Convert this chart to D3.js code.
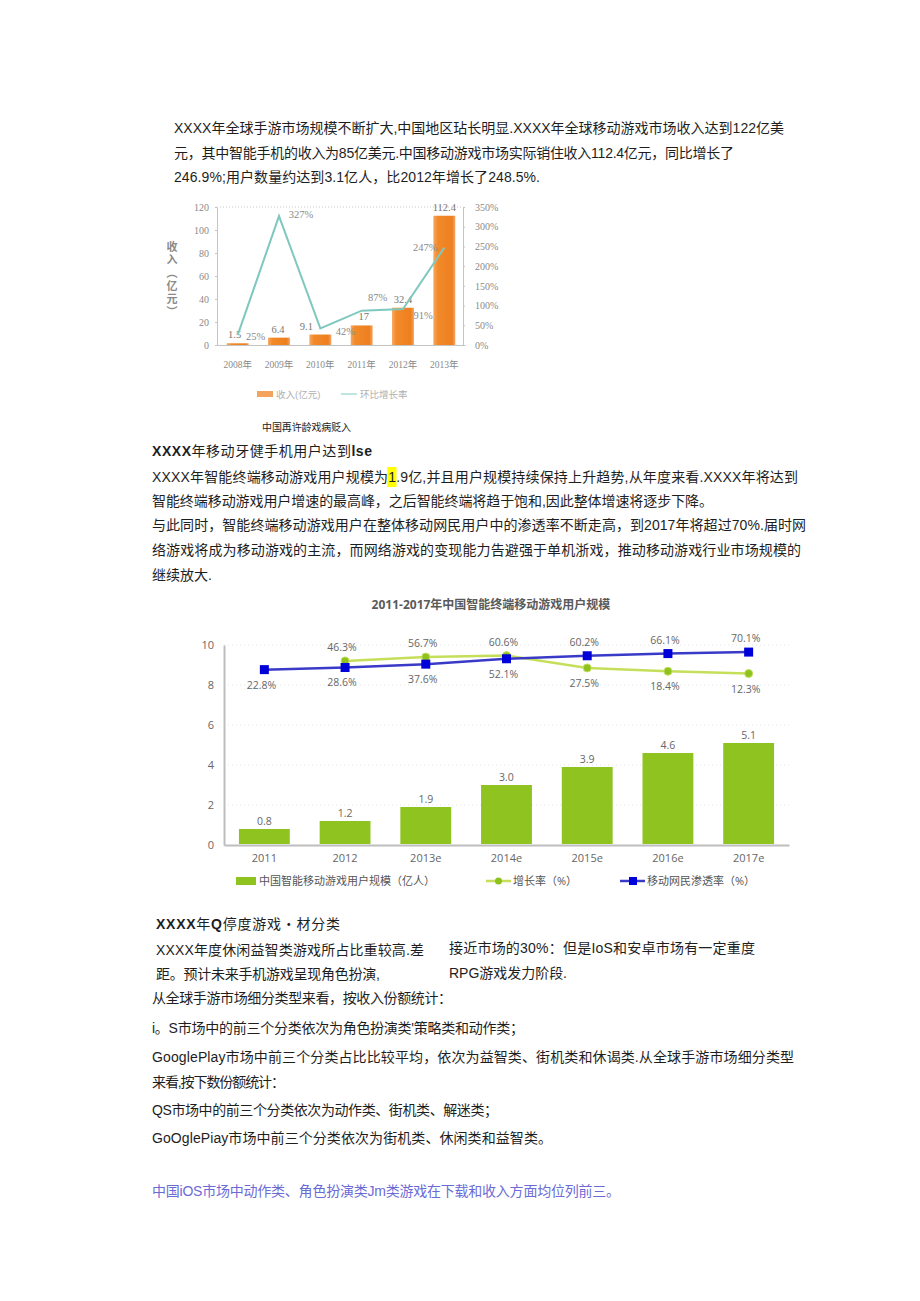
<!DOCTYPE html>
<html>
<head>
<meta charset="utf-8">
<script src="https://cdn.jsdelivr.net/npm/d3@7"></script>
<style>
  html, body { margin: 0; padding: 0; background: #fff; }
  svg { display: block; }
</style>
</head>
<body>
<div id="page"></div>
<script>
(function() {
    'use strict';

    // chart 1: revenue (亿元) and growth (%)
    const revYears = ['2008年', '2009年', '2010年', '2011年', '2012年', '2013年'];
    const revenue = [1.5, 6.4, 9.1, 17, 32.4, 112.4];
    const revGrowth = [25, 327, 42, 87, 91, 247];
    const revTicks = [0, 20, 40, 60, 80, 100, 120];
    const growthTicks = [0, 50, 100, 150, 200, 250, 300, 350];

    // chart 2: users (亿人), growth (%), penetration (%)
    const userYears = ['2011', '2012', '2013e', '2014e', '2015e', '2016e', '2017e'];
    const users = [0.8, 1.2, 1.9, 3.0, 3.9, 4.6, 5.1];
    const userGrowth = [null, 46.3, 56.7, 60.6, 27.5, 18.4, 12.3];
    const penetration = [22.8, 28.6, 37.6, 52.1, 60.2, 66.1, 70.1];
    const userTicks = [0, 2, 4, 6, 8, 10];

    const W = 920, H = 1301;
    const SANS = '"Liberation Sans", Arial, "Noto Sans CJK SC", sans-serif';
    const SERIF = '"Liberation Serif", "Times New Roman", "Noto Sans CJK SC", serif';
    const ROUND = '"Open Sans", "Noto Sans CJK SC", sans-serif';

    const svg = d3.select('#page').append('svg')
        .attr('width', W)
        .attr('height', H);
    svg.append('rect').attr('width', W).attr('height', H).attr('fill', '#fff');

    // ---------- body text ----------
    // [x, center y, width, segments]  (bold segments as {b: text})
    const lines = [
        [174, 128, 610, ['XXXX年全球手游市场规模不断扩大,中国地区玷长明显.XXXX年全球移动游戏市场收入达到122亿美']],
        [174, 153, 560, ['元，其中智能手机的收入为85亿美元.中国移动游戏市场实际销住收入112.4亿元，同比增长了']],
        [174, 177, 366, ['246.9%;用户数量约达到3.1亿人，比2012年增长了248.5%.']],
        [152, 451, 220, [{b: 'XXXX'}, '年移动牙健手机用户达到', {b: 'lse'}]],
        [152, 477, 646, ['XXXX年智能终端移动游戏用户规模为1.9亿,并且用户规模持续保持上升趋势,从年度来看.XXXX年将达到']],
        [152, 501, 561, ['智能终端移动游戏用户增速的最高峰，之后智能终端将趋于饱和,因此整体增速将逐步下降。']],
        [152, 525, 654, ['与此同时，智能终端移动游戏用户在整体移动网民用户中的渗透率不断走高，到2017年将超过70%.届时网']],
        [152, 550, 649, ['络游戏将成为移动游戏的主流，而网络游戏的变现能力告避强于单机浙戏，推动移动游戏行业市场规模的']],
        [152, 575, 60, ['继续放大.']],
        [156, 924, 184, [{b: 'XXXX'}, '年', {b: 'Q'}, '停度游戏・材分类']],
        [156, 950, 268, ['XXXX年度休闲益智类游戏所占比重较高.差']],
        [156, 974, 224, ['距。预计未来手机游戏呈现角色扮演,']],
        [449, 948, 306, ['接近市场的30%：但是IoS和安卓市场有一定重度']],
        [449, 973, 118, ['RPG游戏发力阶段.']],
        [152, 998, 300, ['从全球手游市场细分类型来看，按收入份额统计：']],
        [152, 1028, 372, ['i。S市场中的前三个分类依次为角色扮演类\'策略类和动作类；']],
        [152, 1057, 642, ['GooglePlay市场中前三个分类占比比较平均，依次为益智类、街机类和休谒类.从全球手游市场细分类型']],
        [152, 1082, 133, ['来看,按下数份额统计：']],
        [152, 1110, 346, ['QS市场中的前三个分类依次为动作类、街机类、解迷类；']],
        [152, 1138, 400, ['GoOglePiay市场中前三个分类依次为街机类、休闲类和益智类。']]
    ];

    const textG = svg.append('g').attr('font-family', SANS).attr('font-size', 14).attr('fill', '#1e1e1e');
    const lineNodes = [];
    lines.forEach(([x, cy, w, segs]) => {
        const t = textG.append('text')
            .attr('x', x)
            .attr('y', cy + 5)
            .attr('textLength', w)
            .attr('lengthAdjust', 'spacing');
        segs.forEach(s => {
            if (typeof s === 'string') t.append('tspan').text(s);
            else t.append('tspan').attr('font-weight', 'bold').text(s.b);
        });
        lineNodes.push(t);
    });

    // yellow highlight behind the "1" of 1.9亿
    const hlText = lineNodes[4];
    const hlIdx = hlText.text().indexOf('1.9');
    const ext = hlText.node().getExtentOfChar(hlIdx);
    textG.insert('rect', () => hlText.node())
        .attr('x', ext.x - 1)
        .attr('y', 467)
        .attr('width', ext.width + 1.5)
        .attr('height', 20)
        .attr('fill', '#ffff00');

    // last purple line
    svg.append('text')
        .attr('x', 152)
        .attr('y', 1196)
        .attr('font-family', SANS)
        .attr('font-size', 14)
        .attr('fill', '#6b6bd6')
        .attr('textLength', 468)
        .text('中国iOS市场中动作类、角色扮演类Jm类游戏在下载和收入方面均位列前三。');

    // ---------- chart 1 ----------
    const c1 = {left: 217, right: 465, top: 207, bottom: 345};
    const x1 = d3.scaleBand().domain(revYears).range([c1.left, c1.right])
        .paddingInner(0.47).paddingOuter(0.235);
    const y1 = d3.scaleLinear().domain([0, 120]).range([c1.bottom, c1.top]);
    const y1r = d3.scaleLinear().domain([0, 350]).range([c1.bottom, c1.top]);
    const cx1 = d => x1(d) + x1.bandwidth() / 2;

    const defs = svg.append('defs');
    const grad = defs.append('linearGradient').attr('id', 'orangeBar')
        .attr('x1', '0%').attr('x2', '100%').attr('y1', '0%').attr('y2', '0%');
    grad.append('stop').attr('offset', '0%').attr('stop-color', '#f7a85c');
    grad.append('stop').attr('offset', '20%').attr('stop-color', '#f28a2a');
    grad.append('stop').attr('offset', '85%').attr('stop-color', '#ee7f1f');
    grad.append('stop').attr('offset', '100%').attr('stop-color', '#f4a463');

    const g1 = svg.append('g');

    g1.append('line')
        .attr('x1', c1.left).attr('x2', c1.right - 2)
        .attr('y1', c1.top).attr('y2', c1.top)
        .attr('stroke', '#c8c8c8').attr('stroke-dasharray', '1,2');

    const ax1L = g1.append('g').attr('transform', `translate(${c1.left},0)`)
        .call(d3.axisLeft(y1).tickValues(revTicks).tickSize(2).tickSizeOuter(0).tickPadding(6));
    const ax1R = g1.append('g').attr('transform', `translate(${c1.right - 2},0)`)
        .call(d3.axisRight(y1r).tickValues(growthTicks).tickSize(2).tickSizeOuter(0).tickPadding(10)
            .tickFormat(d => d + '%'));
    const ax1B = g1.append('g').attr('transform', `translate(0,${c1.bottom})`)
        .call(d3.axisBottom(x1).tickSize(0).tickPadding(16));
    [ax1L, ax1R, ax1B].forEach(a => {
        a.selectAll('.domain, .tick line').attr('stroke', '#c4c4c4');
        a.selectAll('text').attr('font-family', SERIF).attr('font-size', 10).attr('fill', '#8a8a8a');
    });
    ax1B.selectAll('text').attr('font-size', 9.5);

    g1.selectAll('.bar1')
        .data(revenue)
        .enter().append('rect')
        .attr('class', 'bar1')
        .attr('x', (d, i) => x1(revYears[i]))
        .attr('y', d => y1(d))
        .attr('width', x1.bandwidth())
        .attr('height', d => c1.bottom - y1(d))
        .attr('fill', 'url(#orangeBar)');

    const barLabelDx = [-3, -1, -14, 2, 0, 0];
    g1.selectAll('.barlab1')
        .data(revenue)
        .enter().append('text')
        .attr('x', (d, i) => cx1(revYears[i]) + barLabelDx[i])
        .attr('y', d => y1(d) - 5)
        .attr('text-anchor', 'middle')
        .attr('font-family', SERIF)
        .attr('font-size', 10.5)
        .attr('fill', '#777')
        .text(d => d);

    g1.append('path')
        .datum(revGrowth)
        .attr('fill', 'none')
        .attr('stroke', '#7fc8bf')
        .attr('stroke-width', 2)
        .attr('d', d3.line().x((d, i) => cx1(revYears[i])).y(d => y1r(d)));

    const growthLabelOff = [[18, 1], [22, -2], [25, 3], [16, -13], [20, 6], [-19, 0]];
    g1.selectAll('.glab1')
        .data(revGrowth)
        .enter().append('text')
        .attr('x', (d, i) => cx1(revYears[i]) + growthLabelOff[i][0])
        .attr('y', (d, i) => y1r(d) + growthLabelOff[i][1] + 3.5)
        .attr('text-anchor', 'middle')
        .attr('font-family', SERIF)
        .attr('font-size', 10.5)
        .attr('fill', '#8a8a8a')
        .text(d => d + '%');

    // y title
    g1.append('text')
        .attr('x', 172)
        .attr('y', 241)
        .attr('font-family', '"Noto Sans CJK SC", sans-serif')
        .attr('font-size', 11)
        .attr('font-weight', 'bold')
        .attr('fill', '#8a8a8a')
        .style('writing-mode', 'vertical-rl')
        .style('letter-spacing', '2px')
        .text('收入（亿元）');

    // legend 1
    g1.append('rect').attr('x', 257).attr('y', 391).attr('width', 16).attr('height', 6).attr('fill', '#f3a35a');
    g1.append('text').attr('x', 276).attr('y', 397.5)
        .attr('font-family', SANS).attr('font-size', 9.5).attr('fill', '#b0b0b0')
        .text('收入(亿元)');
    g1.append('line').attr('x1', 341).attr('x2', 357).attr('y1', 394).attr('y2', 394)
        .attr('stroke', '#a9dcd5').attr('stroke-width', 1.5);
    g1.append('text').attr('x', 360).attr('y', 397.5)
        .attr('font-family', SANS).attr('font-size', 9.5).attr('fill', '#b0b0b0')
        .text('环比增长率');

    svg.append('text').attr('x', 262).attr('y', 431)
        .attr('font-family', SANS).attr('font-size', 10).attr('fill', '#222')
        .attr('textLength', 89)
        .text('中国再许龄戏病贬入');

    // ---------- chart 2 ----------
    const c2 = {left: 224, right: 789, top: 645, bottom: 845};
    const x2 = d3.scaleBand().domain(userYears).range([c2.left, c2.right])
        .paddingInner(0.37).paddingOuter(0.185);
    const y2 = d3.scaleLinear().domain([0, 10]).range([c2.bottom, c2.top]);
    const yPct = d3.scaleLinear().domain([-450, 100]).range([c2.bottom, 641]);
    const cx2 = d => x2(d) + x2.bandwidth() / 2;

    const g2 = svg.append('g');

    g2.append('text')
        .attr('x', 491).attr('y', 609)
        .attr('text-anchor', 'middle')
        .attr('font-family', ROUND)
        .attr('font-size', 12)
        .attr('font-weight', 'bold')
        .attr('fill', '#5a5a5a')
        .text('2011-2017年中国智能终端移动游戏用户规模');

    g2.selectAll('.grid2')
        .data(userTicks.slice(1))
        .enter().append('line')
        .attr('x1', c2.left).attr('x2', c2.right)
        .attr('y1', d => y2(d)).attr('y2', d => y2(d))
        .attr('stroke', '#e4e4e4').attr('stroke-dasharray', '1,3');

    const ax2L = g2.append('g').attr('transform', `translate(${c2.left},0)`)
        .call(d3.axisLeft(y2).tickValues(userTicks).tickSize(0).tickSizeOuter(0).tickPadding(10));
    const ax2B = g2.append('g').attr('transform', `translate(0,${c2.bottom})`)
        .call(d3.axisBottom(x2).tickSize(0).tickSizeOuter(0).tickPadding(9));
    [ax2L, ax2B].forEach(a => {
        a.selectAll('.domain').attr('stroke', '#bdbdbd').attr('stroke-width', 2);
        a.selectAll('text').attr('font-family', ROUND).attr('font-size', 11).attr('fill', '#666');
    });

    g2.selectAll('.bar2')
        .data(users)
        .enter().append('rect')
        .attr('x', (d, i) => x2(userYears[i]))
        .attr('y', d => y2(d))
        .attr('width', x2.bandwidth())
        .attr('height', d => c2.bottom - y2(d) - 1)
        .attr('fill', '#8fc31f');

    g2.selectAll('.barlab2')
        .data(users)
        .enter().append('text')
        .attr('x', (d, i) => cx2(userYears[i]))
        .attr('y', d => y2(d) - 4.5)
        .attr('text-anchor', 'middle')
        .attr('font-family', ROUND)
        .attr('font-size', 10.5)
        .attr('fill', '#666')
        .text(d => d.toFixed(1));

    const growthPts = userGrowth.map((v, i) => ({v, i})).filter(d => d.v !== null);
    const penPts = penetration.map((v, i) => ({v, i}));
    const line2 = d3.line().x(d => cx2(userYears[d.i])).y(d => yPct(d.v));

    g2.append('path').datum(growthPts)
        .attr('fill', 'none').attr('stroke', '#c5df5a').attr('stroke-width', 2.5)
        .attr('d', line2);
    g2.selectAll('.gm').data(growthPts).enter().append('circle')
        .attr('cx', d => cx2(userYears[d.i]))
        .attr('cy', d => yPct(d.v))
        .attr('r', 4)
        .attr('fill', '#8dc21f')
        .attr('stroke', '#c5df5a')
        .attr('stroke-width', 1);

    g2.append('path').datum(penPts)
        .attr('fill', 'none').attr('stroke', '#3a3ac8').attr('stroke-width', 2.5)
        .attr('d', line2);
    g2.selectAll('.pm').data(penPts).enter().append('rect')
        .attr('x', d => cx2(userYears[d.i]) - 4.5)
        .attr('y', d => yPct(d.v) - 4.5)
        .attr('width', 9).attr('height', 9)
        .attr('fill', '#0000d8');

    // point labels: higher value above, lower value below
    const ptLabels = [];
    userYears.forEach((yr, i) => {
        const vals = [penetration[i], userGrowth[i]].filter(v => v !== null);
        const hi = d3.max(vals), lo = d3.min(vals);
        if (vals.length > 1) ptLabels.push({i, v: hi, dy: -14});
        ptLabels.push({i, v: vals.length > 1 ? lo : hi, dy: 15});
    });
    g2.selectAll('.plab').data(ptLabels).enter().append('text')
        .attr('x', d => cx2(userYears[d.i]) - 3)
        .attr('y', d => yPct(d.v) + d.dy + 4)
        .attr('text-anchor', 'middle')
        .attr('font-family', ROUND)
        .attr('font-size', 10.5)
        .attr('fill', '#666')
        .text(d => d.v.toFixed(1) + '%');

    // legend 2
    const lg = g2.append('g').attr('font-family', ROUND).attr('font-size', 11).attr('fill', '#555');
    lg.append('rect').attr('x', 236).attr('y', 877).attr('width', 20).attr('height', 8).attr('fill', '#8fc31f');
    lg.append('text').attr('x', 259).attr('y', 885).text('中国智能移动游戏用户规模（亿人）');
    lg.append('line').attr('x1', 486).attr('x2', 511).attr('y1', 881).attr('y2', 881)
        .attr('stroke', '#c5df5a').attr('stroke-width', 2.5);
    lg.append('circle').attr('cx', 498.5).attr('cy', 881).attr('r', 3.5).attr('fill', '#8dc21f');
    lg.append('text').attr('x', 513).attr('y', 885).text('增长率（%）');
    lg.append('line').attr('x1', 620).attr('x2', 645).attr('y1', 881).attr('y2', 881)
        .attr('stroke', '#3a3ac8').attr('stroke-width', 2.5);
    lg.append('rect').attr('x', 629).attr('y', 877).attr('width', 8).attr('height', 8).attr('fill', '#0000d8');
    lg.append('text').attr('x', 647).attr('y', 885).text('移动网民渗透率（%）');
})();
</script>
</body>
</html>
